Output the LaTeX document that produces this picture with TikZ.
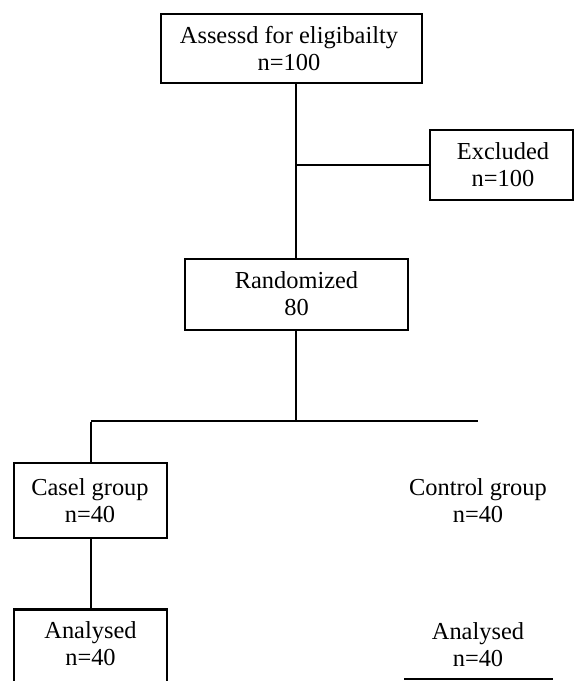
\documentclass[tikz,border=0pt]{standalone}
\usepackage{fontspec}
\setmainfont{Liberation Serif}
\begin{document}
\begin{tikzpicture}[x=1pt,y=-1pt,
  line width=2.8pt,
  box/.style={draw, line width=2.8pt, rectangle, inner sep=0pt},
  txt/.style={align=center, inner sep=0pt, font=\fontsize{24.4}{27}\selectfont},
  conn/.style={draw, line width=2.8pt}]
\clip (0,0) rectangle (574,681);
\fill[white] (0,0) rectangle (574,681);
% boxes
\node[box, minimum width=261, minimum height=69] (assess) at (291.5,48.5) {};
\node[txt] (assessT) at (289,48.5) {Assessd for eligibailty\\n=100};
\node[box, minimum width=143, minimum height=70] (excl) at (501.5,165) {};
\node[txt] (exclT) at (503,164.5) {Excluded\\n=100};
\node[box, minimum width=223, minimum height=71] (rand) at (296.5,294.5) {};
\node[txt] (randT) at (296.5,294) {Randomized\\80};
\node[box, minimum width=153, minimum height=75] (casel) at (90.5,500.5) {};
\node[txt] (caselT) at (90,501) {Casel group\\n=40};
\node[box, minimum width=153, minimum height=90, anchor=north] (anL) at (90.5,608) {};
\node[txt] (anLT) at (90.5,643.5) {Analysed\\n=40};
\node[txt] (ctrl) at (478,501) {Control group\\n=40};
\node[txt] (anR) at (478,644.5) {Analysed\\n=40};
% coordinates
\coordinate (j1) at (296,165);
\coordinate (j2) at (296,421);
\coordinate (hl) at (91,421);
\coordinate (hr) at (478,421);
\coordinate (bl) at (404,679);
\coordinate (br) at (553,679);
% connectors
\draw[conn] (assess.south -| j1) -- (rand.north -| j1);
\draw[conn] (j1) -- (excl.west |- j1);
\draw[conn] (rand.south -| j2) -- (j2);
\draw[conn] (hl) -- (hr);
\draw[conn] ([yshift=-1.4pt]hl) -- (casel.north -| hl);
\draw[conn] (casel.south -| hl) -- (anL.north -| hl);
\draw[conn] (bl) -- (br);
\end{tikzpicture}
\end{document}
